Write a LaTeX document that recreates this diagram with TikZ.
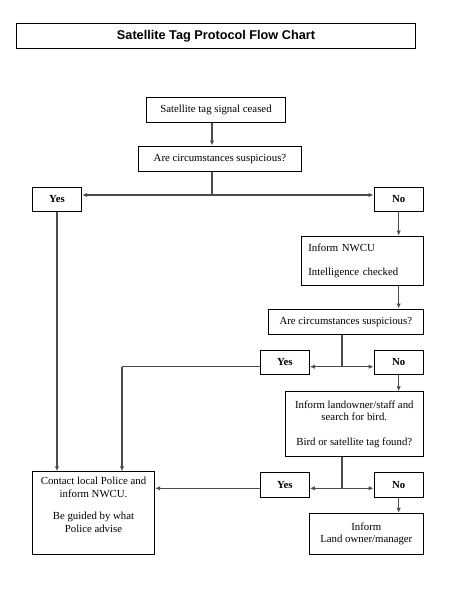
\documentclass[tikz,border=0pt]{standalone}
\usepackage{fontspec}
\setmainfont{Liberation Serif}
\newfontfamily\titlefont{Liberation Sans}
\usetikzlibrary{arrows.meta}
\tikzset{
  box/.style={draw=black, line width=0.9pt, inner sep=0pt, align=center,
    font=\fontsize{10.8}{12.4}\selectfont},
  yn/.style={box, font=\fontsize{10.8}{12}\selectfont\bfseries,
    minimum width=49.4pt, minimum height=24.4pt},
  conn/.style={draw=black!70, line width=1.1pt},
  arr/.style={conn, -{Latex[length=5pt,width=4.5pt]}}
}
\begin{document}
\begin{tikzpicture}[x=1pt,y=-1pt]
\useasboundingbox (0,0) rectangle (454,598);
% title
\node[box, minimum width=398.6pt, minimum height=25pt,
  font=\titlefont\fontsize{12.7}{14}\selectfont\bfseries] (title) at (216,35.8) {Satellite Tag Protocol Flow Chart};
% main boxes
\node[box, minimum width=138.6pt, minimum height=25pt] (start) at (216,109.8) {Satellite tag signal ceased};
\node[box, minimum width=163.4pt, minimum height=25.3pt] (q1) at (220,158.6) {Are circumstances suspicious?};
\node[yn] (yes1) at (57,199.5) {Yes};
\node[yn] (no1) at (398.7,199.5) {No};
\node[box, minimum width=122pt, minimum height=49.3pt, text width=108pt, align=left] (nwcu) at (362.3,260.7) {Inform NWCU\\[11.6pt]Intelligence checked};
\node[box, minimum width=155pt, minimum height=25.3pt] (q2) at (345.8,321.6) {Are circumstances suspicious?};
\node[yn, minimum height=24pt] (yes2) at (284.8,362.3) {Yes};
\node[yn, minimum height=24pt] (no2) at (398.7,362.3) {No};
\node[box, minimum width=138pt, minimum height=64.6pt] (search) at (354.3,424) {Inform landowner/staff and\\search for bird.\\[12.4pt]Bird or satellite tag found?};
\node[yn, minimum height=25pt] (yes3) at (284.8,484.8) {Yes};
\node[yn, minimum height=25pt] (no3) at (398.7,484.8) {No};
\node[box, minimum width=122.4pt, minimum height=82.6pt] (police) at (93.5,513) {};
\node[font=\fontsize{10.8}{13.2}\selectfont, align=center, anchor=north, inner sep=0pt] (policetxt) at (93.5,477) {Contact local Police and\\inform NWCU.\\[8pt]Be guided by what\\Police advise};
\node[box, minimum width=114pt, minimum height=41pt] (owner) at (366.3,533.8) {Inform\\Land owner/manager};
% junctions
\coordinate (j1) at (212,195);
\coordinate (j2) at (342,366.7);
\coordinate (j3) at (342,488.3);
\coordinate (c2) at (122,366.7);
% connectors
\draw[arr] (start.south -| j1) -- (q1.north -| j1);
\draw[conn] (q1.south -| j1) -- (j1);
\draw[arr] (j1) -- (j1 -| yes1.east);
\draw[arr] (j1) -- (j1 -| no1.west);
\draw[arr] (no1.south) -- (nwcu.north -| no1.south);
\draw[arr] (nwcu.south -| no1.south) -- (q2.north -| no1.south);
\draw[conn] (q2.south -| j2) -- (j2);
\draw[arr] (j2) -- (j2 -| yes2.east);
\draw[arr] (j2) -- (j2 -| no2.west);
\draw[arr] (no2.south) -- (search.north -| no2.south);
\draw[conn] (j2 -| yes2.west) -- (c2);
\draw[arr] (c2) -- (c2 |- police.north);
\draw[arr] (yes1.south) -- (yes1.south |- police.north);
\draw[conn] (search.south -| j3) -- (j3);
\draw[arr] (j3) -- (j3 -| yes3.east);
\draw[arr] (j3) -- (j3 -| no3.west);
\draw[arr] (j3 -| yes3.west) -- (j3 -| police.east);
\draw[arr] (no3.south) -- (owner.north -| no3.south);
\end{tikzpicture}
\end{document}
